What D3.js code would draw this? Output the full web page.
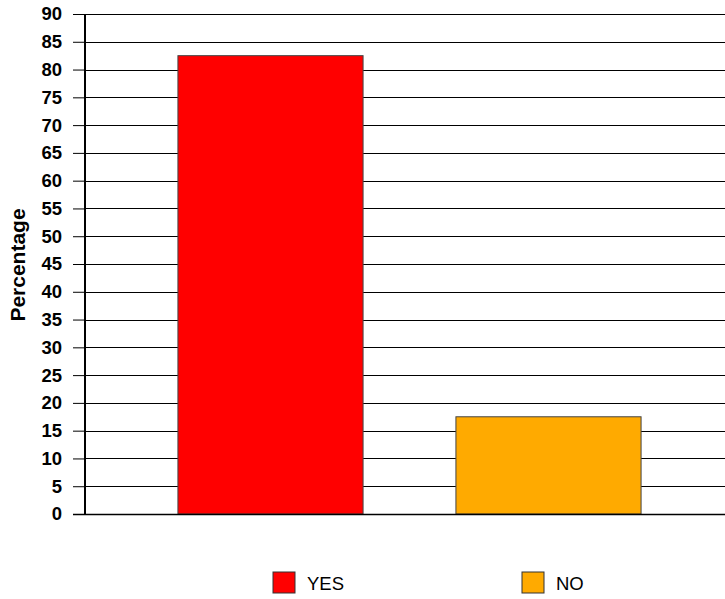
<!DOCTYPE html>
<html><head><meta charset="utf-8">
<script src="https://cdn.jsdelivr.net/npm/d3@7"></script>
<style>body{margin:0;background:#fff}svg{display:block}</style>
</head><body>
<svg id="c" width="725" height="599"></svg>
<script>
const categories = ["YES", "NO"];
const values = [82.5, 17.5];
const colors = ["#ff0000", "#ffaa00"];
const yTicks = [0,5,10,15,20,25,30,35,40,45,50,55,60,65,70,75,80,85,90];
const yLabel = "Percentage";

(function(){
const svg = d3.select("#c");
const pL = 85, pR = 725, pT = 14, pB = 514;
const font = "Liberation Sans, Arial, sans-serif";

const y = d3.scaleLinear().domain([0, 90]).range([pB, pT]);
const x = d3.scaleBand().domain(categories).range([131.5, 687.5]).paddingInner(0.334).paddingOuter(0.167);

// gridlines
svg.append("g").selectAll("line").data(yTicks).join("line")
  .attr("x1", pL).attr("x2", pR)
  .attr("y1", d => Math.round(y(d)) + 0.5).attr("y2", d => Math.round(y(d)) + 0.5)
  .attr("stroke", "#000").attr("stroke-width", 1);

// bars
svg.append("g").selectAll("rect").data(values).join("rect")
  .attr("x", (d, i) => x(categories[i]))
  .attr("y", d => y(d))
  .attr("width", x.bandwidth())
  .attr("height", d => pB - y(d))
  .attr("fill", (d, i) => colors[i])
  .attr("stroke", "#444").attr("stroke-width", 1);

// axis
const axis = d3.axisLeft(y).tickValues(yTicks).tickSize(12).tickPadding(11);
const ag = svg.append("g").attr("transform", `translate(${pL},0)`).call(axis);
ag.select(".domain").attr("stroke", "#000").attr("stroke-width", 2).attr("d", `M0,${pT}V${pB}`);
ag.selectAll(".tick line").attr("stroke", "#000").attr("stroke-width", 1);
ag.selectAll(".tick text").attr("font-family", font).attr("font-weight", "bold")
  .attr("font-size", 18.5).attr("fill", "#000");

// baseline
svg.append("line").attr("x1", pL - 12).attr("x2", pR)
  .attr("y1", pB + 0.5).attr("y2", pB + 0.5).attr("stroke", "#000").attr("stroke-width", 1.5);

// y label
svg.append("text").attr("transform", `translate(25,265) rotate(-90)`)
  .attr("text-anchor", "middle").attr("font-family", font).attr("font-weight", "bold")
  .attr("font-size", 21).text(yLabel);

// legend
const legendX = [273, 522];
const lg = svg.append("g").selectAll("g").data(categories).join("g")
  .attr("transform", (d, i) => `translate(${legendX[i]},572)`);
lg.append("rect").attr("width", 22).attr("height", 21)
  .attr("fill", (d, i) => colors[i]).attr("stroke", "#333").attr("stroke-width", 1);
lg.append("text").attr("x", 34).attr("y", 18).attr("font-family", font)
  .attr("font-size", 18.5).text(d => d);
})();
</script>
</body></html>
